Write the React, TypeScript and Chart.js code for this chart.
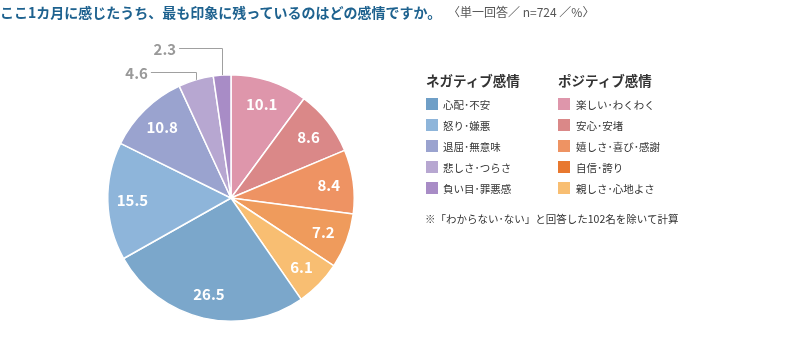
import React, { useEffect, useRef } from "react";
import { Chart, registerables } from "chart.js";

Chart.register(...registerables);

const categories = [
  "楽しい･わくわく",
  "安心･安堵",
  "嬉しさ･喜び･感謝",
  "自信･誇り",
  "親しさ･心地よさ",
  "心配･不安",
  "怒り･嫌悪",
  "退屈･無意味",
  "悲しさ･つらさ",
  "負い目･罪悪感",
];
const values = [10.1, 8.6, 8.4, 7.2, 6.1, 26.5, 15.5, 10.8, 4.6, 2.3];
const sliceColors = [
  "#de96ab",
  "#da8888",
  "#ee9363",
  "#ef9b5c",
  "#f8be72",
  "#7ba7cb",
  "#8eb5da",
  "#9aa3cf",
  "#b7a7d1",
  "#a88cc6",
];
const negativeLegend = ["心配･不安", "怒り･嫌悪", "退屈･無意味", "悲しさ･つらさ", "負い目･罪悪感"];
const negativeColors = ["#6f9fc7", "#8eb5da", "#9aa3cf", "#b7a7d1", "#a88cc6"];
const positiveLegend = ["楽しい･わくわく", "安心･安堵", "嬉しさ･喜び･感謝", "自信･誇り", "親しさ･心地よさ"];
const positiveColors = ["#de96ab", "#da8888", "#ee9363", "#e8782f", "#f8be72"];
const outsideIdx = [8, 9];

const FONT = '"Noto Sans CJK JP", "Noto Sans", sans-serif';

const labelPlugin = {
  id: "sliceLabels",
  afterDatasetsDraw(chart: any) {
    const ctx = chart.ctx;
    const meta = chart.getDatasetMeta(0);
    ctx.save();
    meta.data.forEach((arc: any, i: number) => {
      const { x, y, startAngle, endAngle, outerRadius } = arc.getProps(
        ["x", "y", "startAngle", "endAngle", "outerRadius"],
        true
      );
      const mid = (startAngle + endAngle) / 2;
      const txt = values[i].toFixed(1);
      if (outsideIdx.includes(i)) {
        const ax = x + Math.cos(mid) * outerRadius;
        const ay = y + Math.sin(mid) * outerRadius;
        const elbowY = i === 9 ? ay - 27 : ay - 8;
        const endX = i === 9 ? ax - 43 : ax - 45;
        ctx.strokeStyle = "#a0a0a0";
        ctx.lineWidth = 1;
        ctx.beginPath();
        ctx.moveTo(Math.round(ax) + 0.5, ay);
        ctx.lineTo(Math.round(ax) + 0.5, Math.round(elbowY) + 0.5);
        ctx.lineTo(endX, Math.round(elbowY) + 0.5);
        ctx.stroke();
        ctx.fillStyle = "#999999";
        ctx.font = `bold 15px ${FONT}`;
        ctx.textAlign = "right";
        ctx.textBaseline = "middle";
        ctx.fillText(txt, endX - 3, elbowY + 1);
      } else {
        const r = outerRadius * 0.8;
        ctx.fillStyle = "#ffffff";
        ctx.font = `bold 15px ${FONT}`;
        ctx.textAlign = "center";
        ctx.textBaseline = "middle";
        ctx.fillText(txt, x + Math.cos(mid) * r, y + Math.sin(mid) * r);
      }
    });
    ctx.restore();
  },
};

export default function App() {
  const ref = useRef<HTMLCanvasElement>(null);
  useEffect(() => {
    if (!ref.current) return;
    const chart = new Chart(ref.current, {
      type: "pie",
      data: {
        labels: categories,
        datasets: [
          {
            data: values,
            backgroundColor: sliceColors,
            borderColor: "#ffffff",
            borderWidth: 1.5,
          },
        ],
      },
      options: {
        animation: false,
        responsive: false,
        maintainAspectRatio: false,
        layout: { padding: { top: 74, bottom: 30, left: 107, right: 435 } },
        plugins: {
          legend: { display: false },
          tooltip: { enabled: false },
        },
      },
      plugins: [labelPlugin],
    });
    return () => chart.destroy();
  }, []);

  const legendCol = (items: string[], colors: string[], left: number, textGap: number, head: string) => (
    <div style={{ position: "absolute", left, top: 71 }}>
      <div style={{ fontSize: 13.5, fontWeight: 700, color: "#333", lineHeight: "18px", height: 22.5 }}>{head}</div>
      {items.map((t, i) => (
        <div key={t} style={{ display: "flex", alignItems: "center", height: 21 }}>
          <span style={{ display: "inline-block", width: 12, height: 12, background: colors[i], marginRight: textGap }} />
          <span style={{ fontSize: 10.5, color: "#333" }}>{t}</span>
        </div>
      ))}
    </div>
  );

  return (
    <div
      style={{
        position: "fixed",
        left: 0,
        top: 0,
        width: 790,
        height: 352,
        background: "#fff",
        fontFamily: FONT,
        overflow: "hidden",
      }}
    >
      <canvas ref={ref} width={790} height={352} style={{ position: "absolute", left: 0, top: 0 }} />
      <div style={{ position: "absolute", left: 0, top: 2, whiteSpace: "nowrap", lineHeight: "18px" }}>
        <span style={{ fontSize: 14, fontWeight: 700, color: "#1e628f" }}>
          ここ1カ月に感じたうち、最も印象に残っているのはどの感情ですか。
        </span>
      </div>
      <div style={{ position: "absolute", left: 448, top: 3, whiteSpace: "nowrap", lineHeight: "18px", fontSize: 12, color: "#555" }}>
        〈単一回答／ n=724 ／%〉
      </div>
      {legendCol(negativeLegend, negativeColors, 426, 5, "ネガティブ感情")}
      {legendCol(positiveLegend, positiveColors, 558, 6, "ポジティブ感情")}
      <div style={{ position: "absolute", left: 425, top: 211, fontSize: 10.5, color: "#333", whiteSpace: "nowrap" }}>
        ※「わからない･ない」と回答した102名を除いて計算
      </div>
    </div>
  );
}
